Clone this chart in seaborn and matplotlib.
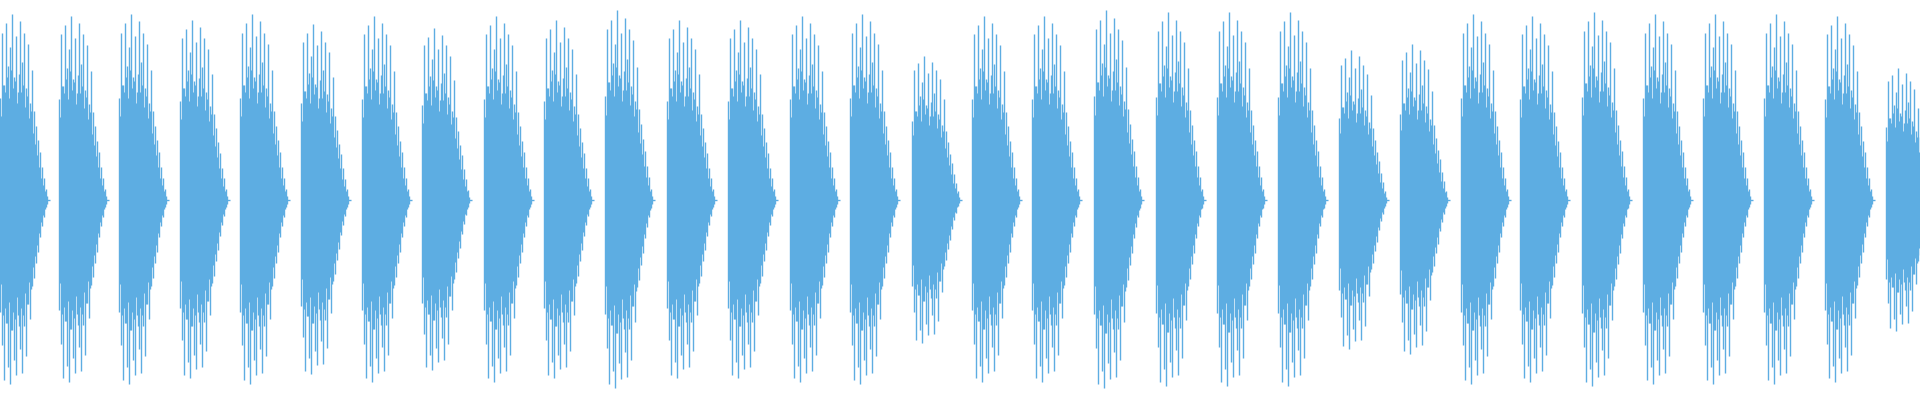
import matplotlib
matplotlib.use("Agg")
import matplotlib.pyplot as plt
import seaborn as sns

# burst onsets (sample index) and peak amplitude of each burst
onsets = [0, 59, 119, 180, 240, 301, 362, 422, 484, 544, 605, 667, 728, 790, 850, 912,
          972, 1032, 1094, 1156, 1217, 1278, 1339, 1400, 1461, 1520, 1582, 1643, 1703,
          1764, 1825, 1886]
peaks = [0.93, 0.92, 0.93, 0.90, 0.93, 0.88, 0.92, 0.86, 0.92, 0.90, 0.95, 0.90, 0.90,
         0.92, 0.93, 0.72, 0.92, 0.92, 0.95, 0.94, 0.94, 0.94, 0.75, 0.78, 0.93, 0.92,
         0.94, 0.93, 0.93, 0.93, 0.92, 0.66]

# shape of one burst, one tall spike every 2 samples (relative to peak)
upper = [0.55, 0.90, 0.62, 0.95, 0.72, 0.82, 1.0, 0.66, 0.88, 0.58, 0.96, 0.74,
         0.90, 0.60, 0.84, 0.52, 0.70, 0.48, 0.40, 0.32, 0.26, 0.18, 0.12, 0.06]
lower = [0.60, 0.78, 0.97, 0.66, 0.90, 0.99, 0.70, 0.86, 0.94, 0.62, 0.80, 0.93,
         0.68, 0.84, 0.56, 0.64, 0.46, 0.42, 0.34, 0.28, 0.20, 0.14, 0.09, 0.04]
# in-between spikes, odd samples
mid = [0.45, 0.62, 0.58, 0.66, 0.55, 0.70, 0.60, 0.64, 0.52, 0.68, 0.58, 0.62,
       0.50, 0.56, 0.44, 0.48, 0.36, 0.30, 0.24, 0.18, 0.12, 0.08, 0.05, 0.02]
# solid centre band
core = [0.30, 0.42, 0.44, 0.45, 0.46, 0.46, 0.46, 0.46, 0.46, 0.45, 0.45, 0.44,
        0.43, 0.40, 0.36, 0.30, 0.24, 0.18, 0.13, 0.09, 0.06, 0.04, 0.02, 0.01]
step = 2

color = "#5dade2"
sns.set_style("white")
fig = plt.figure(figsize=(19.2, 4), dpi=100)
ax = fig.add_axes([0, 0, 1, 1])

for start, amp in zip(onsets, peaks):
    xs = [start + step * i for i in range(len(upper))]
    xm = [x + 1 for x in xs]
    ax.vlines(xs, [-amp * v for v in lower], [amp * v for v in upper], color=color, lw=1.0)
    ax.vlines(xm, [-amp * v for v in mid], [amp * v for v in mid], color=color, lw=1.0)
    ax.fill_between(xs, [-amp * v for v in core], [amp * v for v in core],
                    color=color, lw=0, step="post")
    ax.hlines(0, start, xs[-1] + 4, color=color, lw=1.0)

ax.set_xlim(0, 1920)
ax.set_ylim(-1, 1)
ax.axis("off")
sns.despine(left=True, bottom=True)
fig.savefig("out.png", dpi=100)
